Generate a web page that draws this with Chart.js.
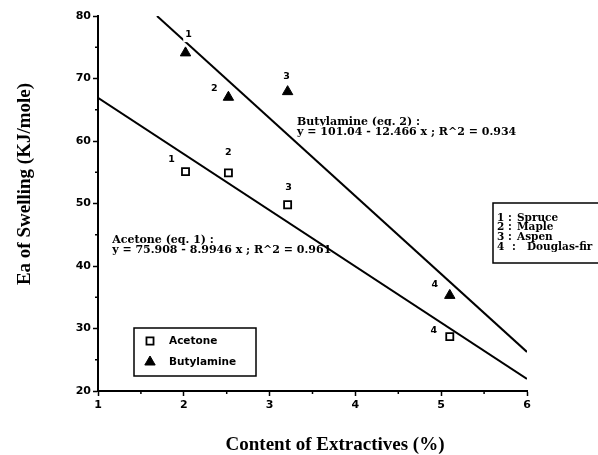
<!DOCTYPE html>
<html>
<head>
<meta charset="utf-8">
<script src="https://cdn.jsdelivr.net/npm/chart.js@4.4.1/dist/chart.umd.min.js"></script>
<style>
  html, body { margin: 0; padding: 0; background: #fff; }
  canvas { display: block; }
</style>
</head>
<body>
<canvas id="c" width="598" height="455"></canvas>
<script>
// Wood species and their extractive content
const woodIds = ['1', '2', '3', '4'];
const woodNames = ['Spruce', 'Maple', 'Aspen', 'Douglas-fir'];
const extractives = [2.02, 2.52, 3.21, 5.10];          // Content of extractives (%)
const acetoneEa = [55.1, 54.9, 49.8, 28.7];            // Ea of swelling in acetone (KJ/mole)
const butylamineEa = [74.1, 67.0, 67.9, 35.3];         // Ea of swelling in butylamine (KJ/mole)

// Linear fits: [intercept, slope, R^2]
const acetoneFit = [75.908, -8.9946, 0.961];
const butylamineFit = [101.04, -12.466, 0.934];

// Axis ranges and tick labels
const xTicks = [1, 2, 3, 4, 5, 6];
const yTicks = [20, 30, 40, 50, 60, 70, 80];
const xMinor = [1.5, 2.5, 3.5, 4.5, 5.5];
const yMinor = [25, 35, 45, 55, 65, 75];

const X_MIN = xTicks[0], X_MAX = xTicks[xTicks.length - 1];
const Y_MIN = yTicks[0], Y_MAX = yTicks[yTicks.length - 1];

const pts = (xs, ys) => xs.map((x, i) => ({ x: x, y: ys[i] }));
const fitY = (f, x) => f[0] + f[1] * x;

// Fitted lines drawn across the plotted range (butylamine starts where it enters the top)
const acetoneLine = [X_MIN, X_MAX].map(x => ({ x: x, y: fitY(acetoneFit, x) }));
const butylStart = Math.max(X_MIN, (Y_MAX - butylamineFit[0]) / butylamineFit[1]);
const butylamineLine = [butylStart, X_MAX].map(x => ({ x: x, y: fitY(butylamineFit, x) }));

const fmt = (f, name, eq) =>
  [name + ' (eq. ' + eq + ') :',
   'y = ' + f[0] + ' - ' + Math.abs(f[1]) + ' x ; R^2 = ' + f[2]];

const SERIF = '"Liberation Serif", "Times New Roman", serif';
const SERIF_WIDE = '"DejaVu Serif", serif';
const SANS = '"DejaVu Sans", Arial, sans-serif';

// Offsets (px) of the species number drawn next to each marker
const acetoneLabelOffset = [[-14, -12], [0, -20], [1, -17], [-16, -6]];
const butylLabelOffset = [[3, -18], [-14, -9], [-1, -15], [-15, -11]];

function textBg(ctx, text, x, y, pad) {
  const w = ctx.measureText(text).width;
  const fs = parseFloat(ctx.font.match(/([\d.]+)px/)[1]);
  ctx.save();
  ctx.fillStyle = '#fff';
  let left = x;
  if (ctx.textAlign === 'center') left = x - w / 2;
  ctx.fillRect(left - pad, y - fs * 0.55 - pad, w + pad * 2, fs * 1.1 + pad * 2);
  ctx.restore();
}

const decor = {
  id: 'decor',
  afterDraw(chart) {
    const ctx = chart.ctx;
    const xs = chart.scales.x, ys = chart.scales.y;
    const area = chart.chartArea;
    ctx.save();
    ctx.fillStyle = '#000';
    ctx.strokeStyle = '#000';

    // minor ticks
    ctx.lineWidth = 1.5;
    xMinor.forEach(v => {
      const p = xs.getPixelForValue(v);
      ctx.beginPath(); ctx.moveTo(p, area.bottom); ctx.lineTo(p, area.bottom + 3); ctx.stroke();
    });
    yMinor.forEach(v => {
      const p = ys.getPixelForValue(v);
      ctx.beginPath(); ctx.moveTo(area.left, p); ctx.lineTo(area.left - 3, p); ctx.stroke();
    });

    // axis titles
    ctx.font = 'bold 19px ' + SERIF;
    ctx.textAlign = 'center';
    ctx.textBaseline = 'middle';
    ctx.fillText('Content of Extractives (%)', 335, 445);
    ctx.save();
    ctx.translate(25, 184);
    ctx.rotate(-Math.PI / 2);
    ctx.fillText('Ea of Swelling (KJ/mole)', 0, 0);
    ctx.restore();

    // species numbers beside markers
    ctx.font = 'bold 9.5px ' + SANS;
    ctx.textAlign = 'center';
    const numLabels = (ysData, offs) => {
      extractives.forEach((x, i) => {
        const px = xs.getPixelForValue(x) + offs[i][0];
        const py = ys.getPixelForValue(ysData[i]) + offs[i][1];
        textBg(ctx, woodIds[i], px, py, 2);
        ctx.fillText(woodIds[i], px, py);
      });
    };
    numLabels(acetoneEa, acetoneLabelOffset);
    numLabels(butylamineEa, butylLabelOffset);

    // fit equations
    ctx.font = 'bold 11px ' + SERIF_WIDE;
    ctx.textAlign = 'left';
    const bLines = fmt(butylamineFit, 'Butylamine', 2);
    const bx = xs.getPixelForValue(3.32), by = ys.getPixelForValue(63.0);
    bLines.forEach((t, i) => { textBg(ctx, t, bx, by + i * 10, 0.5); ctx.fillText(t, bx, by + i * 10); });
    const aLines = fmt(acetoneFit, 'Acetone', 1);
    const ax = xs.getPixelForValue(1.165), ay = ys.getPixelForValue(44.15);
    aLines.forEach((t, i) => ctx.fillText(t, ax, ay + i * 10));

    // species key
    ctx.lineWidth = 1.5;
    ctx.strokeRect(493, 203, 140, 60);
    ctx.font = 'bold 10.5px ' + SERIF_WIDE;
    woodNames.forEach((n, i) => {
      const y = 218 + i * 9.7;
      const last = i === woodNames.length - 1;
      ctx.fillText(woodIds[i], 497, y);
      ctx.fillText(':', last ? 512 : 508, y);
      ctx.fillText(n, last ? 527 : 517, y);
    });

    // series legend
    ctx.strokeRect(134, 328, 122, 48);
    ctx.font = 'bold 10.5px ' + SANS;
    chart.data.datasets.slice(0, 2).forEach((ds, i) => {
      const y = 341 + i * 21;
      ctx.fillStyle = ds.backgroundColor;
      ctx.strokeStyle = ds.borderColor;
      ctx.lineWidth = ds.borderWidth;
      Chart.helpers.drawPoint(ctx, {
        pointStyle: ds.pointStyle, radius: ds.pointRadius, borderWidth: ds.borderWidth
      }, 150, y);
      ctx.fillStyle = '#000';
      ctx.fillText(ds.label, 169, y);
    });
    ctx.restore();
  }
};

new Chart(document.getElementById('c'), {
  type: 'scatter',
  data: {
    datasets: [
      {
        label: 'Acetone', data: pts(extractives, acetoneEa),
        pointStyle: 'rect', pointRadius: 5, borderWidth: 1.8,
        backgroundColor: '#fff', borderColor: '#000'
      },
      {
        label: 'Butylamine', data: pts(extractives, butylamineEa),
        pointStyle: 'triangle', pointRadius: 6, borderWidth: 1,
        backgroundColor: '#000', borderColor: '#000'
      },
      {
        label: 'Acetone fit', data: acetoneLine, showLine: true,
        pointRadius: 0, borderColor: '#000', borderWidth: 2, fill: false
      },
      {
        label: 'Butylamine fit', data: butylamineLine, showLine: true,
        pointRadius: 0, borderColor: '#000', borderWidth: 2, fill: false
      }
    ]
  },
  options: {
    responsive: false,
    animation: false,
    devicePixelRatio: 1,
    layout: { padding: { left: 0, top: 16, right: 71, bottom: 0 } },
    plugins: { legend: { display: false }, tooltip: { enabled: false } },
    scales: {
      x: {
        type: 'linear', min: X_MIN, max: X_MAX,
        afterBuildTicks: s => { s.ticks = xTicks.map(v => ({ value: v })); },
        afterFit: s => { s.height = 64; },
        border: { display: true, color: '#000', width: 2 },
        grid: { drawOnChartArea: false, drawTicks: true, tickLength: 5, tickWidth: 1.5, tickColor: '#000', color: '#000' },
        ticks: { color: '#000', padding: 3, font: { family: SANS, weight: 'bold', size: 11 } }
      },
      y: {
        type: 'linear', min: Y_MIN, max: Y_MAX,
        afterBuildTicks: s => { s.ticks = yTicks.map(v => ({ value: v })); },
        afterFit: s => { s.width = 98; },
        border: { display: true, color: '#000', width: 2 },
        grid: { drawOnChartArea: false, drawTicks: true, tickLength: 5, tickWidth: 1.5, tickColor: '#000', color: '#000' },
        ticks: { color: '#000', padding: 2, font: { family: SANS, weight: 'bold', size: 11 } }
      }
    }
  },
  plugins: [decor]
});
</script>
</body>
</html>
